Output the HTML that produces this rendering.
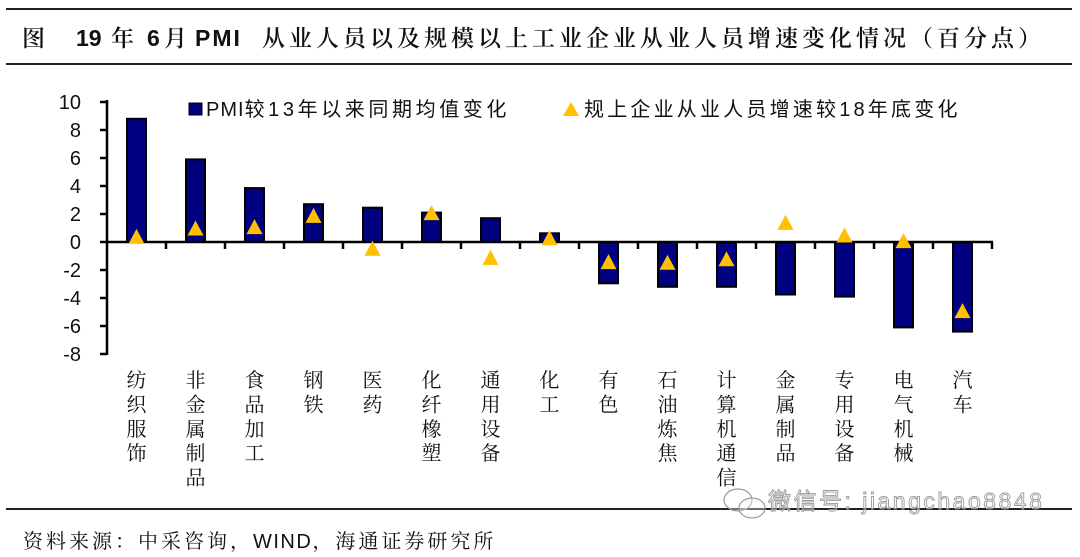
<!DOCTYPE html>
<html><head><meta charset="utf-8">
<style>
html,body{margin:0;padding:0;background:#fff;}
svg{display:block;}
.t{font-family:"Liberation Serif","Noto Serif CJK SC",serif;}
.s{font-family:"Liberation Sans","Noto Sans CJK SC",sans-serif;}
</style></head>
<body>
<svg width="1080" height="557" viewBox="0 0 1080 557" xmlns="http://www.w3.org/2000/svg">
<rect width="1080" height="557" fill="#fff"/>
<!-- frame lines -->
<line x1="6" y1="9" x2="1072" y2="9" stroke="#222" stroke-width="2"/>
<line x1="6" y1="64" x2="1072" y2="64" stroke="#222" stroke-width="2"/>
<line x1="6" y1="509" x2="1072" y2="509" stroke="#222" stroke-width="2"/>

<!-- title -->
<g fill="#111" font-size="23">
<text x="22" y="46" class="t" font-weight="600">图</text>
<text x="76" y="46" class="s" font-weight="bold">19</text>
<text x="111" y="46" class="t" font-weight="600">年</text>
<text x="147" y="46" class="s" font-weight="bold">6</text>
<text x="164" y="46" class="t" font-weight="600">月</text>
<text x="195" y="46" class="s" font-weight="bold" style="letter-spacing:2px">PMI</text>
<text x="262" y="46" class="t" font-weight="600" style="letter-spacing:4px">从业人员以及规模以上工业企业从业人员增速变化情况（百分点）</text>
</g>

<!-- legend -->
<rect x="189" y="103" width="13" height="12" fill="#000080" stroke="#000" stroke-width="1"/>
<text x="206" y="116" class="s" font-size="20" fill="#111"><tspan style="letter-spacing:1px">PMI</tspan><tspan style="letter-spacing:3.6px">较13年以来同期均值变化</tspan></text>
<polygon points="571,102 579,116 563,116" fill="#FFC000"/>
<text x="584" y="116" class="s" font-size="20" fill="#111" style="letter-spacing:3.2px">规上企业从业人员增速较18年底变化</text>

<!-- y labels -->
<g class="s" font-size="20" fill="#111" text-anchor="end">
<text x="81" y="109">10</text>
<text x="81" y="137">8</text>
<text x="81" y="165">6</text>
<text x="81" y="193">4</text>
<text x="81" y="221">2</text>
<text x="81" y="249">0</text>
<text x="81" y="277">-2</text>
<text x="81" y="305">-4</text>
<text x="81" y="333">-6</text>
<text x="81" y="361">-8</text>
</g>

<!-- bars -->
<g fill="#000080" stroke="#000" stroke-width="2">
<rect x="127" y="118.8" width="19" height="123.2"/>
<rect x="186" y="159.4" width="19" height="82.6"/>
<rect x="245" y="188.1" width="19" height="53.9"/>
<rect x="304" y="204.2" width="19" height="37.8"/>
<rect x="363" y="207.7" width="19" height="34.3"/>
<rect x="422" y="212.6" width="19" height="29.4"/>
<rect x="481" y="218.2" width="19" height="23.8"/>
<rect x="540" y="233.3" width="19" height="8.7"/>
<rect x="599" y="242" width="19" height="41.3"/>
<rect x="658" y="242" width="19" height="44.8"/>
<rect x="717" y="242" width="19" height="44.8"/>
<rect x="776" y="242" width="19" height="52.5"/>
<rect x="835" y="242" width="19" height="54.6"/>
<rect x="894" y="242" width="19" height="85.4"/>
<rect x="953" y="242" width="19" height="89.6"/>
</g>

<!-- axes -->
<g stroke="#000" stroke-width="2.5">
<line x1="107" y1="100" x2="107" y2="355"/>
<line x1="106" y1="242" x2="993" y2="242"/>
<line x1="100" y1="102" x2="107" y2="102"/>
<line x1="100" y1="130" x2="107" y2="130"/>
<line x1="100" y1="158" x2="107" y2="158"/>
<line x1="100" y1="186" x2="107" y2="186"/>
<line x1="100" y1="214" x2="107" y2="214"/>
<line x1="100" y1="242" x2="107" y2="242"/>
<line x1="100" y1="270" x2="107" y2="270"/>
<line x1="100" y1="298" x2="107" y2="298"/>
<line x1="100" y1="326" x2="107" y2="326"/>
<line x1="100" y1="354" x2="107" y2="354"/>
<line x1="166" y1="242" x2="166" y2="249"/>
<line x1="225" y1="242" x2="225" y2="249"/>
<line x1="284" y1="242" x2="284" y2="249"/>
<line x1="343" y1="242" x2="343" y2="249"/>
<line x1="402" y1="242" x2="402" y2="249"/>
<line x1="461" y1="242" x2="461" y2="249"/>
<line x1="520" y1="242" x2="520" y2="249"/>
<line x1="579" y1="242" x2="579" y2="249"/>
<line x1="638" y1="242" x2="638" y2="249"/>
<line x1="697" y1="242" x2="697" y2="249"/>
<line x1="756" y1="242" x2="756" y2="249"/>
<line x1="815" y1="242" x2="815" y2="249"/>
<line x1="874" y1="242" x2="874" y2="249"/>
<line x1="933" y1="242" x2="933" y2="249"/>
<line x1="992" y1="242" x2="992" y2="249"/>
</g>

<!-- triangles -->
<g fill="#FFC000">
<polygon points="136.5,228.9 144.5,243.9 128.5,243.9"/>
<polygon points="195.5,220.5 203.5,235.5 187.5,235.5"/>
<polygon points="254.5,219.1 262.5,234.1 246.5,234.1"/>
<polygon points="313.5,207.9 321.5,222.9 305.5,222.9"/>
<polygon points="372.5,240.8 380.5,255.8 364.5,255.8"/>
<polygon points="431.5,205.1 439.5,220.1 423.5,220.1"/>
<polygon points="490.5,249.9 498.5,264.9 482.5,264.9"/>
<polygon points="549.5,230.3 557.5,245.3 541.5,245.3"/>
<polygon points="608.5,254.1 616.5,269.1 600.5,269.1"/>
<polygon points="667.5,254.8 675.5,269.8 659.5,269.8"/>
<polygon points="726.5,251.3 734.5,266.3 718.5,266.3"/>
<polygon points="785.5,214.9 793.5,229.9 777.5,229.9"/>
<polygon points="844.5,227.5 852.5,242.5 836.5,242.5"/>
<polygon points="903.5,233.1 911.5,248.1 895.5,248.1"/>
<polygon points="962.5,303.1 970.5,318.1 954.5,318.1"/>
</g>

<!-- category labels -->
<g class="t" font-size="20" fill="#111" text-anchor="middle">
<text x="136.5" y="387">纺</text><text x="136.5" y="411.4">织</text><text x="136.5" y="435.8">服</text><text x="136.5" y="460.2">饰</text>
<text x="195.5" y="387">非</text><text x="195.5" y="411.4">金</text><text x="195.5" y="435.8">属</text><text x="195.5" y="460.2">制</text><text x="195.5" y="484.6">品</text>
<text x="254.5" y="387">食</text><text x="254.5" y="411.4">品</text><text x="254.5" y="435.8">加</text><text x="254.5" y="460.2">工</text>
<text x="313.5" y="387">钢</text><text x="313.5" y="411.4">铁</text>
<text x="372.5" y="387">医</text><text x="372.5" y="411.4">药</text>
<text x="431.5" y="387">化</text><text x="431.5" y="411.4">纤</text><text x="431.5" y="435.8">橡</text><text x="431.5" y="460.2">塑</text>
<text x="490.5" y="387">通</text><text x="490.5" y="411.4">用</text><text x="490.5" y="435.8">设</text><text x="490.5" y="460.2">备</text>
<text x="549.5" y="387">化</text><text x="549.5" y="411.4">工</text>
<text x="608.5" y="387">有</text><text x="608.5" y="411.4">色</text>
<text x="667.5" y="387">石</text><text x="667.5" y="411.4">油</text><text x="667.5" y="435.8">炼</text><text x="667.5" y="460.2">焦</text>
<text x="726.5" y="387">计</text><text x="726.5" y="411.4">算</text><text x="726.5" y="435.8">机</text><text x="726.5" y="460.2">通</text><text x="726.5" y="484.6">信</text>
<text x="785.5" y="387">金</text><text x="785.5" y="411.4">属</text><text x="785.5" y="435.8">制</text><text x="785.5" y="460.2">品</text>
<text x="844.5" y="387">专</text><text x="844.5" y="411.4">用</text><text x="844.5" y="435.8">设</text><text x="844.5" y="460.2">备</text>
<text x="903.5" y="387">电</text><text x="903.5" y="411.4">气</text><text x="903.5" y="435.8">机</text><text x="903.5" y="460.2">械</text>
<text x="962.5" y="387">汽</text><text x="962.5" y="411.4">车</text>
</g>

<!-- watermark -->
<g fill="rgba(255,255,255,0.35)" stroke="#9a9a9a" stroke-width="1.2">
<ellipse cx="738" cy="500" rx="14" ry="11"/>
<ellipse cx="752" cy="508" rx="13" ry="10"/>
</g>
<text x="768" y="509" class="s" font-size="23" fill="rgba(255,255,255,0.4)" stroke="#9a9a9a" stroke-width="0.9" style="letter-spacing:2.5px">微信号: jiangchao8848</text>

<!-- source -->
<text x="23" y="548" class="t" font-size="20" fill="#111" style="letter-spacing:3px">资料来源：中采咨询，<tspan class="s" style="letter-spacing:1.5px">WIND</tspan>，海通证券研究所</text>
</svg>
</body></html>
